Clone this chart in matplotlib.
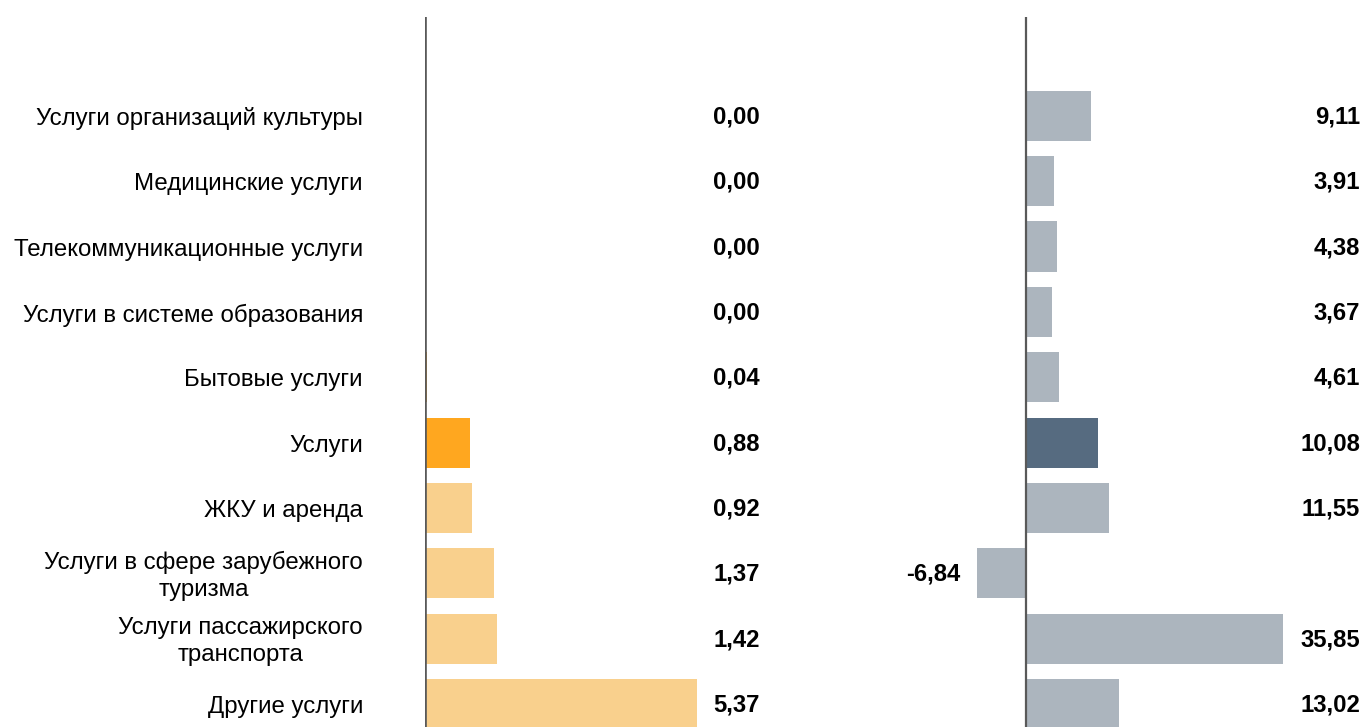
import matplotlib
matplotlib.use("Agg")
import matplotlib.pyplot as plt

plt.rcParams['font.family'] = ['Liberation Sans', 'DejaVu Sans']

categories = [
    "Услуги организаций культуры",
    "Медицинские услуги",
    "Телекоммуникационные услуги",
    "Услуги в системе образования",
    "Бытовые услуги",
    "Услуги",
    "ЖКУ и аренда",
    "Услуги в сфере зарубежного\nтуризма",
    "Услуги пассажирского\nтранспорта",
    "Другие услуги",
]
left_values = [0.00, 0.00, 0.00, 0.00, 0.04, 0.88, 0.92, 1.37, 1.42, 5.37]
right_values = [9.11, 3.91, 4.38, 3.67, 4.61, 10.08, 11.55, -6.84, 35.85, 13.02]
highlight = "Услуги"

W, H = 1364, 727
fig = plt.figure(figsize=(W / 100, H / 100), dpi=100)

def px_axes(x0, x1, y0, y1):
    return fig.add_axes([x0 / W, 1 - y1 / H, (x1 - x0) / W, (y1 - y0) / H])

n = len(categories)
ys = [-i for i in range(n)]
ylim = (-9.352, 1.515)
bar_h = 0.77
FS_CAT = 17.3
FS_VAL = 17.2

# Left panel
axL = px_axes(425, 775, 17, 727)
scaleL = 50.65
axL.set_xlim(0, 350 / scaleL)
axL.set_ylim(*ylim)
colorsL = ["#FFA71F" if c == highlight or v < 0.1 else "#F9D08D" for c, v in zip(categories, left_values)]
axL.barh(ys, left_values, height=bar_h, color=colorsL, zorder=2)
for y, v in zip(ys, left_values):
    axL.annotate(f"{v:.2f}".replace(".", ","), xy=(335 / scaleL, y), xycoords="data",
                 xytext=(0, -1 * 0.72), textcoords="offset points",
                 ha="right", va="center", fontsize=FS_VAL, fontweight="bold", color="black")
for y, c in zip(ys, categories):
    axL.annotate(c, xy=(0, y), xycoords="data", xytext=(-62 * 0.72, -3 * 0.72), textcoords="offset points",
                 ha="right", va="center", multialignment="center",
                 fontsize=FS_CAT, color="black", linespacing=1.3)
axL.axvline(0, color="#595959", lw=1.9, zorder=3)

# Right panel
axR = px_axes(900, 1364, 17, 727)
scaleR = 7.17
axR.set_xlim(-126 / scaleR, 338 / scaleR)
axR.set_ylim(*ylim)
colorsR = ["#566B80" if c == highlight else "#ACB5BE" for c in categories]
axR.barh(ys, right_values, height=bar_h, color=colorsR, zorder=2)
for y, v in zip(ys, right_values):
    txt = f"{v:.2f}".replace(".", ",")
    if v >= 0:
        axR.annotate(txt, xy=(334 / scaleR, y), xycoords="data",
                     xytext=(0, -1 * 0.72), textcoords="offset points",
                     ha="right", va="center", fontsize=FS_VAL, fontweight="bold", color="black")
    else:
        axR.annotate(txt, xy=(v, y), xycoords="data", xytext=(-17 * 0.72, -1 * 0.72),
                     textcoords="offset points", ha="right", va="center",
                     fontsize=FS_VAL, fontweight="bold", color="black")
axR.axvline(0, color="#595959", lw=1.6, zorder=3)

for ax in (axL, axR):
    for s in ax.spines.values():
        s.set_visible(False)
    ax.set_xticks([])
    ax.set_yticks([])
    ax.patch.set_alpha(0)

fig.savefig("out.png", dpi=100)
